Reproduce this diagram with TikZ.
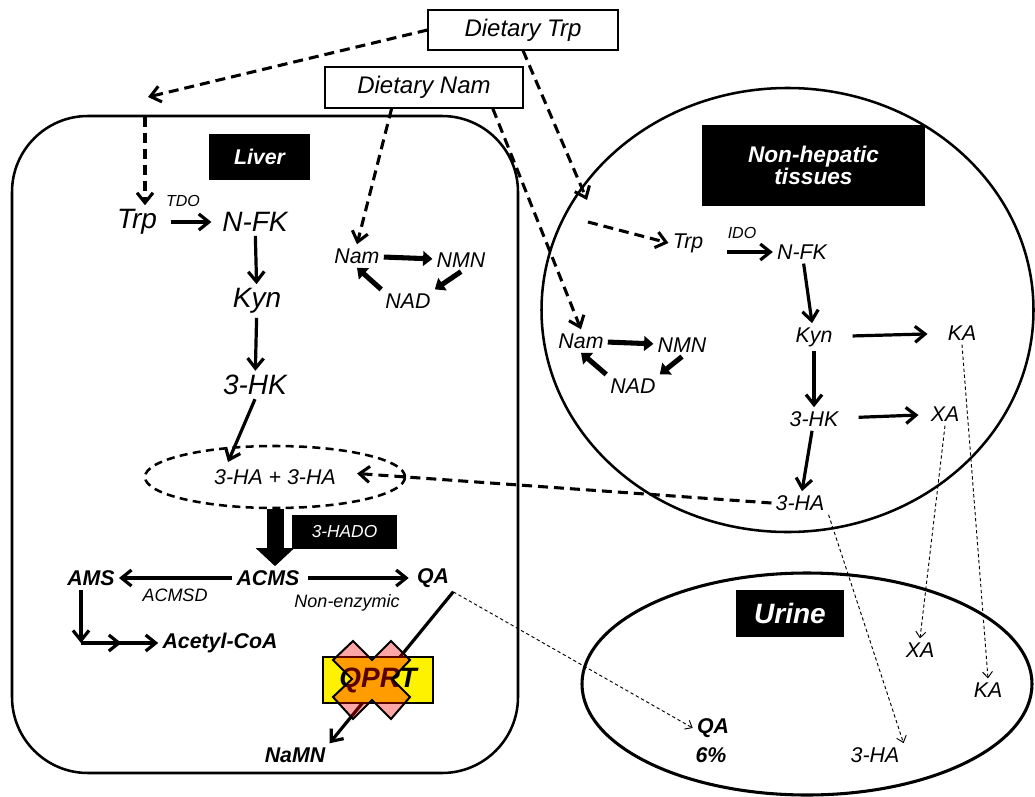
\documentclass[tikz,border=0pt]{standalone}
\usepackage{fontspec}
\setmainfont{Liberation Sans}
\usetikzlibrary{arrows.meta,shapes.geometric}

\newcommand{\fsz}[1]{\fontsize{#1}{#1}\selectfont\itshape}

\begin{document}
\begin{tikzpicture}[x=0.75pt,y=-0.75pt,
    >={Straight Barb[length=7.5pt,width=12pt]},
    every node/.style={inner sep=3pt},
    lg/.style={font=\fsz{21pt}},
    md/.style={font=\fsz{16pt}},
    sm/.style={font=\fsz{12pt}},
    mdb/.style={font=\fsz{16pt}\bfseries},
    tag/.style={fill=black,text=white,inner sep=0pt},
    diet/.style={draw,fill=white,line width=.8pt,font=\fsz{18pt},inner sep=0pt},
    arr/.style={->,line width=2.4pt},
    fat/.style={-{Triangle[length=7pt,width=11pt]},line width=3.8pt},
    feed/.style={->,line width=2.3pt,dash pattern=on 7.5pt off 4.5pt},
    leak/.style={-{Straight Barb[length=4.5pt,width=7.5pt]},line width=.7pt,dash pattern=on 2.5pt off 2pt},
  ]
\useasboundingbox (0,0) rectangle (1035,796);

% diet
\node[diet,minimum width=142.5pt,minimum height=30pt] (dtrp) at (523,30) {Dietary Trp};
\node[diet,minimum width=148.5pt,minimum height=30.75pt] (dnam) at (424,87.5) {Dietary Nam};
\coordinate (livergate) at (148,97);
\coordinate (liverin) at (145,117);
\coordinate (nhgate) at (587,200);
\coordinate (nhin) at (588,222);

% liver
\draw[line width=1.9pt,rounded corners=57pt] (12,116) rectangle (518,773);
\node[tag,minimum width=75.75pt,minimum height=34.5pt,font=\fsz{16pt}\bfseries] (livertag) at (259.5,157) {Liver};
\node[lg] (trpL) at (137,222) {Trp};
\node[sm] (tdo) at (183,201) {TDO};
\node[lg] (nfkL) at (255,222) {N-FK};
\node[lg] (kynL) at (257,301) {Kyn};
\node[lg] (hkL) at (255,385) {3-HK};
\node[md,ellipse,draw,line width=1.9pt,dash pattern=on 6pt off 4pt,minimum width=195pt,minimum height=46.5pt] (haL) at (275,477) {3-HA + 3-HA};
\coordinate (haIn) at (228,462);
\node[tag,minimum width=78.75pt,minimum height=25.5pt,font=\fsz{13pt}] (hado) at (344.5,532) {3-HADO};
\node[mdb] (acms) at (268,578) {ACMS};
\node[mdb] (ams) at (91,578) {AMS};
\node[mdb] (qaL) at (433,578) {QA};
\node[font=\fsz{13.5pt}] (acmsd) at (175,595) {ACMSD};
\node[font=\fsz{13.5pt}] (nonenz) at (347,603) {Non-enzymic};
\node[mdb] (acoa) at (220,643) {Acetyl-CoA};
\coordinate (turn) at (81,643);
\node[mdb] (namn) at (295,755) {NaMN};
\node[md] (namL) at (357,256) {Nam};
\node[md] (nmnL) at (461,260) {NMN};
\node[md] (nadL) at (408,301) {NAD};

% non-hepatic
\draw[line width=1.9pt] (787.5,310) ellipse [x radius=246, y radius=222];
\node[tag,minimum width=167.25pt,minimum height=60.75pt,font=\fsz{17pt}\bfseries,align=center] (nhtag) at (813.5,165.5) {Non-hepatic\\tissues};
\node[md] (trpN) at (688,243) {Trp};
\node[sm] (ido) at (742,233) {IDO};
\node[md] (nfkN) at (802,252) {N-FK};
\node[md] (kynN) at (814,337) {Kyn};
\node[md] (kaN) at (962,333) {KA};
\node[md] (hkN) at (814,419) {3-HK};
\node[md] (xaN) at (945,414) {XA};
\node[md] (haN) at (800,503) {3-HA};
\node[md] (namN) at (581,341) {Nam};
\node[md] (nmnN) at (682,345) {NMN};
\node[md] (nadN) at (633,386) {NAD};

% urine
\draw[line width=2.3pt] (807,684) ellipse [x radius=225, y radius=111];
\node[tag,minimum width=81pt,minimum height=35.25pt,font=\fsz{21pt}\bfseries] (urinetag) at (790,613.5) {Urine};
\node[md] (xaU) at (920,650) {XA};
\node[md] (kaU) at (988,690) {KA};
\node[mdb] (qaU) at (713,728) {QA};
\node[mdb] (pct) at (711,755) {6\%};
\node[md] (haU) at (875,755) {3-HA};

% dietary supply
\draw[feed] (dtrp.west) -- (livergate);
\draw[feed] (liverin) -- (liverin |- trpL.north);
\draw[feed] (dtrp.south) -- (nhgate);
\draw[feed] (nhin) -- (trpN.west);
\draw[feed] (dnam.213) -- (namL.north);
\draw[feed] (dnam.343) -- (namN.north);

% liver pathway
\draw[arr,shorten <=7pt,shorten >=5pt] (trpL) -- (nfkL);
\draw[arr] (nfkL) -- (kynL);
\draw[arr] (kynL) -- (hkL);
\draw[arr] (hkL.south) -- (haIn);
\draw[-{Triangle[length=13.5pt,width=28pt]},line width=12.75pt] (haL.south) -- (haL.south |- acms.north);
\draw[arr] (acms) -- (ams);
\draw[arr,shorten <=3pt,shorten >=3pt] (acms) -- (qaL);
\draw[arr] (turn |- ams.south) -- (turn);
\draw[-{Straight Barb[length=7.5pt,width=12pt,sep=17pt]Straight Barb[length=7.5pt,width=12pt]},line width=2.4pt] (turn) -- (acoa.west);
\draw[arr] (qaL.south east) -- (namn.north east);
\node[draw,fill=yellow,line width=.8pt,minimum width=82.5pt,minimum height=34.5pt,font=\fsz{21pt}\bfseries] (qprt) at (378,680) {QPRT};
\draw[fill=red,fill opacity=.35,line width=1.5pt] (353,641) -- (372,660) -- (391,641) -- (410,660) -- (392,679) -- (410,697)
  -- (391,719) -- (372,700) -- (353,719) -- (333,697) -- (352,679) -- (333,660) -- cycle;
\draw[fat] (namL) -- (nmnL);
\draw[fat] (nmnL.south) -- (nadL.north east);
\draw[fat] (nadL.north west) -- (namL.south);

% non-hepatic pathway
\draw[arr,shorten <=15pt] (trpN.east |- nfkN) -- (nfkN.west);
\draw[arr] (nfkN) -- (kynN);
\draw[arr,shorten <=12pt,shorten >=12pt] (kynN) -- (kaN);
\draw[arr] (kynN) -- (hkN);
\draw[arr,shorten <=12pt,shorten >=6pt] (hkN) -- (xaN);
\draw[arr] (hkN) -- (haN);
\draw[fat] (namN) -- (nmnN);
\draw[fat] (nmnN.south) -- (nadN.north east);
\draw[fat] (nadN.north west) -- (namN.south);
\draw[feed,shorten >=-37pt] (haN.west) -- (haL.east);

% to urine
\draw[leak] (qaL.south east) -- (qaU.west);
\draw[leak] (haN.south east) -- (haU.north east);
\draw[leak] (xaN.south) -- (xaU.north);
\draw[leak] (kaN.south) -- (kaU.north);
\end{tikzpicture}
\end{document}
